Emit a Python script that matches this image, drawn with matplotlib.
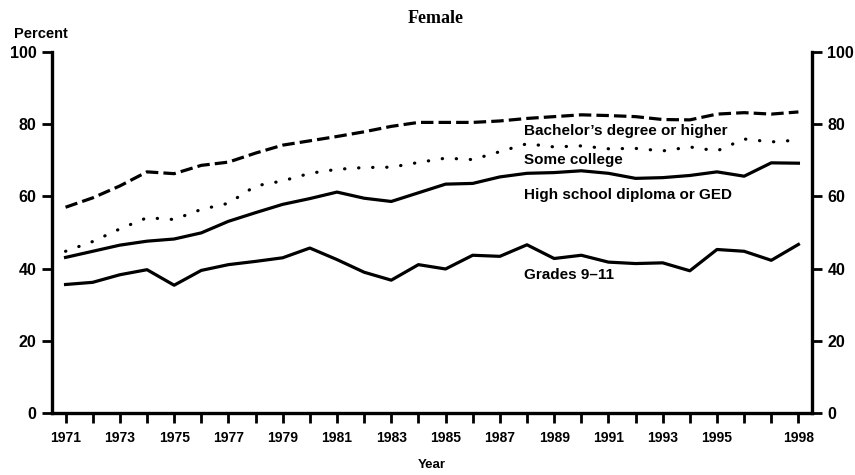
import numpy as np
import matplotlib.pyplot as plt

# Data (percent)
years = np.arange(1971, 1999)
bachelors = [57.0, 59.6, 62.9, 66.8, 66.3, 68.6, 69.5, 72.0, 74.2, 75.4,
             76.6, 77.9, 79.4, 80.5, 80.5, 80.5, 80.9, 81.6, 82.1, 82.6,
             82.4, 82.1, 81.3, 81.2, 82.8, 83.2, 82.8, 83.4]
some_college = [44.8, 47.5, 51.0, 54.1, 53.6, 56.4, 58.1, 62.9, 64.3, 66.4,
                67.5, 68.0, 68.1, 69.4, 70.6, 70.2, 72.4, 74.6, 73.7, 74.0,
                73.2, 73.3, 72.6, 73.7, 72.6, 75.9, 75.1, 75.6]
high_school = [43.1, 44.8, 46.5, 47.6, 48.2, 49.9, 53.1, 55.5, 57.8, 59.4,
               61.2, 59.5, 58.6, 61.0, 63.4, 63.6, 65.4, 66.4, 66.6, 67.1,
               66.4, 65.0, 65.2, 65.8, 66.8, 65.6, 69.3, 69.2]
grades_9_11 = [35.6, 36.2, 38.3, 39.7, 35.4, 39.5, 41.1, 42.0, 43.0, 45.7,
               42.5, 39.0, 36.8, 41.1, 39.9, 43.7, 43.4, 46.6, 42.8, 43.7,
               41.8, 41.4, 41.6, 39.4, 45.3, 44.8, 42.3, 46.7]

tick_labels = [str(y) if (y % 2 == 1 and y <= 1995) or y == 1998 else ''
               for y in years]
series_labels = ["Bachelor\u2019s degree or higher", "Some college",
                 "High school diploma or GED", "Grades 9\u201311"]
label_values = [78.0, 70.2, 60.3, 38.3]

plt.rcParams['font.family'] = ['Liberation Sans', 'DejaVu Sans']

fig = plt.figure(figsize=(8.55, 4.75), dpi=100)
ax = fig.add_axes([0.0608, 0.1305, 0.8889, 0.76])

lw = 2.3
ax.plot(years, bachelors, color='black', lw=lw, dashes=(3.9, 1.6),
        dash_capstyle='butt')
ax.plot(years, some_college, color='black', lw=lw,
        linestyle=(0, (0.1, 4.3)), dash_capstyle='round')
ax.plot(years, high_school, color='black', lw=lw)
ax.plot(years, grades_9_11, color='black', lw=lw)

for text, v in zip(series_labels, label_values):
    ax.text(1987.9, v, text, fontsize=11, fontweight='bold', va='center',
            ha='left')

ax.set_xlim(1970.5, 1998.5)
ax.set_ylim(0, 100)

ax.set_xticks(years)
ax.set_xticklabels(tick_labels, fontsize=10, fontweight='bold')
ax.set_yticks([0, 20, 40, 60, 80, 100])
ax.set_yticklabels(['0', '20', '40', '60', '80', '100'], fontsize=11.5,
                   fontweight='bold')
ax.tick_params(axis='both', direction='out', width=2, length=7, color='black')
ax.tick_params(axis='y', labelright=True, right=True, pad=4)
ax.tick_params(axis='x', pad=6)

ax.spines['top'].set_visible(False)
for side in ['left', 'right', 'bottom']:
    ax.spines[side].set_linewidth(2.4)

ax.text(-0.05, 1.03, 'Percent', transform=ax.transAxes, fontsize=10.5,
        fontweight='bold', ha='left', va='bottom')
ax.set_xlabel('Year', fontsize=9.5, fontweight='bold', labelpad=10)
fig.text(0.51, 0.962, 'Female', family='Liberation Serif', fontsize=13,
         fontweight='bold', ha='center', va='center')

fig.savefig('out.png', dpi=100)
